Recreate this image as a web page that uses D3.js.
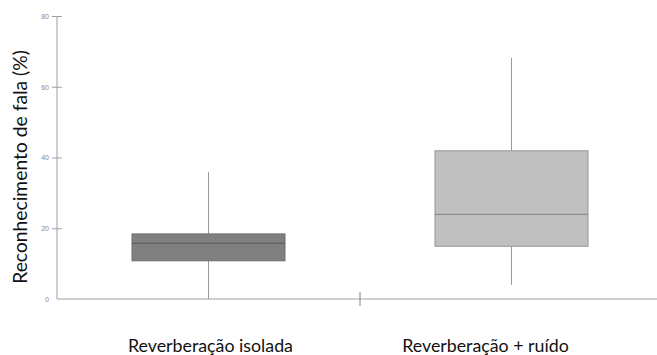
<!DOCTYPE html>
<html>
<head>
<meta charset="utf-8">
<script src="https://cdn.jsdelivr.net/npm/d3@7"></script>
<style>
  body { margin: 0; background: #fff; }
</style>
</head>
<body>
<svg id="drawing_region"></svg>
<script>
// data
const categories = ['Reverberação isolada', 'Reverberação + ruído'];
const whiskerLow = [0, 4];
const q1 = [10.8, 14.9];
const median = [15.7, 23.9];
const q3 = [18.4, 41.9];
const whiskerHigh = [35.9, 68.2];
const yTicks = [0, 20, 40, 60, 80];

const fills = ['#808080', '#c0c0c0'];
const strokes = ['#6e6e6e', '#979797'];
const medianColors = ['#626262', '#8c8c8c'];
const labelShift = [2, -26];

const width = 657, height = 355;

const svg = d3.select('#drawing_region')
    .attr('width', width)
    .attr('height', height);

const xscale = d3.scaleBand()
    .domain(categories)
    .range([57, 663])
    .padding(0);

const yscale = d3.scaleLinear()
    .domain([0, 80])
    .range([299, 16]);

const boxes = categories.map((c, i) => ({
    cat: c, lo: whiskerLow[i], q1: q1[i], med: median[i], q3: q3[i], hi: whiskerHigh[i], i: i
}));

const boxWidth = xscale.bandwidth() * 0.505;

// whiskers
svg.selectAll('.whisker')
    .data(boxes)
    .enter()
    .append('line')
    .attr('x1', d => xscale(d.cat) + xscale.bandwidth() / 2)
    .attr('x2', d => xscale(d.cat) + xscale.bandwidth() / 2)
    .attr('y1', d => yscale(d.lo))
    .attr('y2', d => yscale(d.hi))
    .attr('stroke', '#9a9a9a')
    .attr('stroke-width', 1);

// boxes
svg.selectAll('.box')
    .data(boxes)
    .enter()
    .append('rect')
    .attr('x', d => xscale(d.cat) + xscale.bandwidth() / 2 - boxWidth / 2)
    .attr('y', d => yscale(d.q3))
    .attr('width', boxWidth)
    .attr('height', d => yscale(d.q1) - yscale(d.q3))
    .attr('fill', d => fills[d.i])
    .attr('stroke', d => strokes[d.i])
    .attr('stroke-width', 1);

// medians
svg.selectAll('.median')
    .data(boxes)
    .enter()
    .append('line')
    .attr('x1', d => xscale(d.cat) + xscale.bandwidth() / 2 - boxWidth / 2)
    .attr('x2', d => xscale(d.cat) + xscale.bandwidth() / 2 + boxWidth / 2)
    .attr('y1', d => yscale(d.med))
    .attr('y2', d => yscale(d.med))
    .attr('stroke', d => medianColors[d.i])
    .attr('stroke-width', 1.2);

// y axis
const yaxis = d3.axisLeft(yscale)
    .tickValues(yTicks)
    .tickSize(5)
    .tickPadding(4);

const yaxis_group = svg.append('g')
    .attr('transform', 'translate(57, 0)')
    .call(yaxis);

yaxis_group.select('.domain')
    .attr('d', `M0,${yscale(80)}V${yscale(0)}`)
    .attr('stroke', '#a0a0a0');
yaxis_group.selectAll('.tick line')
    .attr('x1', 5)
    .attr('x2', -5)
    .attr('stroke', '#a0a0a0')
    .attr('opacity', d => d === 0 ? 0 : 1);
yaxis_group.selectAll('.tick text')
    .attr('font-size', '7px')
    .attr('font-family', 'Liberation Sans, Arial, sans-serif')
    .attr('fill', '#8a8a8a')
    .attr('x', -8);

// x axis: line plus a tick at the band boundary
svg.append('line')
    .attr('x1', 57)
    .attr('x2', width)
    .attr('y1', yscale(0))
    .attr('y2', yscale(0))
    .attr('stroke', '#a0a0a0')
    .attr('stroke-width', 1);

svg.selectAll('.xtick')
    .data(categories.slice(1))
    .enter()
    .append('line')
    .attr('x1', d => xscale(d))
    .attr('x2', d => xscale(d))
    .attr('y1', yscale(0) - 7)
    .attr('y2', yscale(0) + 7)
    .attr('stroke', '#808080')
    .attr('stroke-width', 1);

// category labels
svg.selectAll('.xlabel')
    .data(boxes)
    .enter()
    .append('text')
    .attr('x', d => xscale(d.cat) + xscale.bandwidth() / 2 + labelShift[d.i])
    .attr('y', 352)
    .attr('text-anchor', 'middle')
    .attr('font-family', 'Lato, sans-serif')
    .attr('font-size', '17.8px')
    .attr('fill', '#111')
    .text(d => d.cat);

// y axis title
svg.append('text')
    .attr('transform', 'translate(27, 167) rotate(-90)')
    .attr('text-anchor', 'middle')
    .attr('font-family', 'Lato, sans-serif')
    .attr('font-size', '19.3px')
    .attr('fill', '#111')
    .text('Reconhecimento de fala (%)');
</script>
</body>
</html>
